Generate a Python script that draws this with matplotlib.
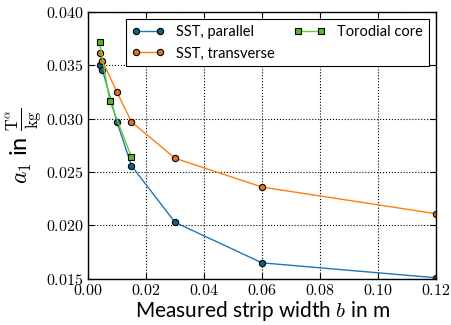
import matplotlib
matplotlib.use("Agg")
import matplotlib.pyplot as plt
from matplotlib.ticker import FuncFormatter

plt.rcParams['mathtext.fontset'] = 'cm'
plt.rcParams['font.family'] = ['Lato', 'DejaVu Sans']

# strip widths in m
b_parallel = [0.004, 0.005, 0.010, 0.015, 0.030, 0.060, 0.120]
a1_parallel = [0.0350, 0.0346, 0.0297, 0.0256, 0.0203, 0.0165, 0.0151]

b_transverse = [0.004, 0.005, 0.010, 0.015, 0.030, 0.060, 0.120]
a1_transverse = [0.0362, 0.0354, 0.0325, 0.0297, 0.0263, 0.0236, 0.0211]

b_core = [0.004, 0.0075, 0.015]
a1_core = [0.0372, 0.0317, 0.0264]

fig = plt.figure(figsize=(4.51, 3.25), dpi=100)
ax = fig.add_axes([0.195, 0.142, 0.772, 0.821])

ax.plot(b_parallel, a1_parallel, '-o', color='#1f77b4', mfc='#0f5f8f', mec='black',
        ms=4.5, mew=0.8, lw=1, label='SST, parallel')
ax.plot(b_transverse, a1_transverse, '-o', color='#ff7f0e', mfc='#e8701a', mec='black',
        ms=4.5, mew=0.8, lw=1, label='SST, transverse')
ax.plot(b_core, a1_core, '-s', color='#66cc33', mfc='#55bb22', mec='black',
        ms=4.5, mew=0.8, lw=1, label='Torodial core')

ax.set_xlim(0, 0.12)
ax.set_ylim(0.015, 0.040)
ax.set_xticks([0.0, 0.02, 0.04, 0.06, 0.08, 0.10, 0.12])
ax.set_yticks([0.015, 0.020, 0.025, 0.030, 0.035, 0.040])
ax.xaxis.set_major_formatter(FuncFormatter(lambda v, p: r'$%.2f$' % v))
ax.yaxis.set_major_formatter(FuncFormatter(lambda v, p: r'$%.3f$' % v))
ax.tick_params(direction='in', top=True, right=True, labelsize=11.5, length=4, pad=3)
ax.grid(True, linestyle=':', color='black', lw=0.8)
for s in ax.spines.values():
    s.set_linewidth(1)

ax.set_xlabel(r'Measured strip width $b$ in m', fontsize=15, labelpad=1)
ax.set_ylabel(r'$a_1$ in $\frac{\mathrm{T}^\alpha}{\mathrm{kg}}$', fontsize=17, labelpad=2)

leg = ax.legend(loc='upper right', ncol=2, numpoints=2, fontsize=10.5, fancybox=False,
                edgecolor='black', framealpha=1, handlelength=2.2, columnspacing=1.3,
                borderaxespad=0.5)
leg.get_frame().set_linewidth(0.8)

fig.savefig('out.png', dpi=100)
